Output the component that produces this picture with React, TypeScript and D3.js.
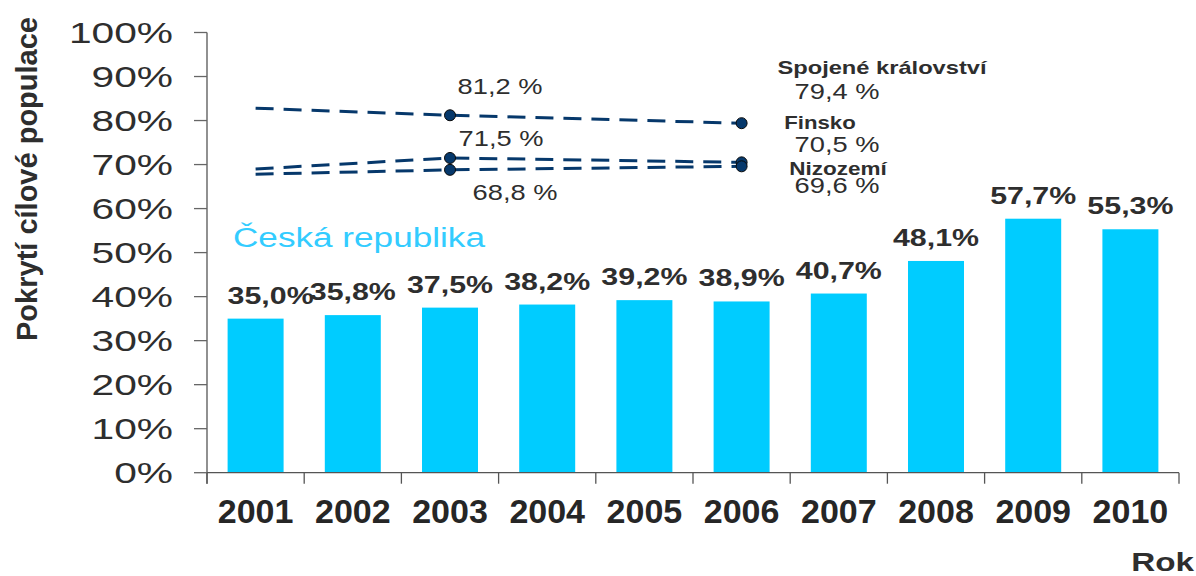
import React from 'react';
import * as d3 from 'd3';

// Czech coverage per year (bars)
const years = ['2001', '2002', '2003', '2004', '2005', '2006', '2007', '2008', '2009', '2010'];
const czValues = [35.0, 35.8, 37.5, 38.2, 39.2, 38.9, 40.7, 48.1, 57.7, 55.3];

// comparison countries (dashed lines)
const lineYears = ['2001', '2003', '2006'];
const ukValues = [82.8, 81.2, 79.4];
const fiValues = [69.0, 71.5, 70.5];
const nlValues = [67.8, 68.8, 69.6];

const yTicks = [0, 10, 20, 30, 40, 50, 60, 70, 80, 90, 100];
const yTickLabels = ['0%', '10%', '20%', '30%', '40%', '50%', '60%', '70%', '80%', '90%', '100%'];

const W = 1196;
const H = 576;
const FONT = 'Arial, "Liberation Sans", Helvetica, sans-serif';
const BAR = '#00CCFF';
const NAVY = '#06386b';
const TXT = '#2e2e2e';

const fmtBar = (v: number) => v.toFixed(1).replace('.', ',') + '%';
const fmtLine = (v: number) => v.toFixed(1).replace('.', ',') + ' %';

// text stretched horizontally like in the source picture
const SText = ({ x, y, s = 1, anchor = 'middle', size, weight = 'normal', fill = TXT, children }: any) => (
  <text
    transform={`translate(${x},${y}) scale(${s},1)`}
    textAnchor={anchor}
    fontSize={size}
    fontWeight={weight}
    fill={fill}
    fontFamily={FONT}
  >
    {children}
  </text>
);

export default function App() {
  const x = d3.scaleBand().domain(years).range([207, 1179]).paddingInner(0.424).paddingOuter(0.212);
  const y = d3.scaleLinear().domain([0, 100]).range([472.7, 32.5]);
  const step = x.step();
  const cx = (yr: string) => (x(yr) as number) + x.bandwidth() / 2;

  const line = d3
    .line<number>()
    .x((_, i) => cx(lineYears[i]))
    .y((d) => y(d));

  const series = [
    { values: ukValues, name: 'Spojené království' },
    { values: fiValues, name: 'Finsko' },
    { values: nlValues, name: 'Nizozemí' },
  ];

  const boundaries = years.map((yr) => (x(yr) as number) - (step - x.bandwidth()) / 2);
  boundaries.push(1179);

  return (
    <svg width={W} height={H} style={{ position: 'absolute', left: 0, top: 0, background: '#fff' }}>
      {/* bars */}
      {czValues.map((v, i) => (
        <rect key={i} x={x(years[i])} y={y(v)} width={x.bandwidth()} height={y(0) - y(v)} fill={BAR} />
      ))}

      {/* y axis */}
      <line x1={207} x2={207} y1={y(100)} y2={y(0) + 11} stroke="#555" strokeWidth={1.3} />
      {yTicks.map((t, i) => (
        <g key={t}>
          <line x1={194} x2={207} y1={y(t)} y2={y(t)} stroke="#666" strokeWidth={1.3} />
          <text
            transform={`translate(173,${y(t) + 10.5}) scale(1.38,1)`}
            textAnchor="end"
            fontSize={29.5}
            fill={TXT}
            fontFamily={FONT}
          >
            {yTickLabels[i]}
          </text>
        </g>
      ))}

      {/* x axis */}
      <line x1={207} x2={1179} y1={y(0)} y2={y(0)} stroke="#555" strokeWidth={1.3} />
      {boundaries.map((b, i) => (
        <line key={i} x1={b} x2={b} y1={y(0)} y2={y(0) + 11} stroke="#555" strokeWidth={1.3} />
      ))}
      {years.map((yr) => (
        <text key={yr} x={cx(yr)} y={523} textAnchor="middle" fontSize={34} fontWeight="bold" fill="#262626" fontFamily={FONT}>
          {yr}
        </text>
      ))}

      {/* bar value labels (the first one sits a little right in the source) */}
      {czValues.map((v, i) => (
        <SText key={i} x={cx(years[i]) + (i === 0 ? 15 : 0)} y={y(v) - 15} s={1.24} size={24.5} weight="bold">
          {fmtBar(v)}
        </SText>
      ))}

      {/* titles */}
      <text
        transform="translate(37,179) rotate(-90)"
        textAnchor="middle"
        fontSize={29}
        fontWeight="bold"
        fill={TXT}
        fontFamily={FONT}
      >
        Pokrytí cílové populace
      </text>
      <SText x={1194} y={571} s={1.33} anchor="end" size={25} weight="bold">
        Rok
      </SText>
      <SText x={233} y={247} s={1.255} anchor="start" size={28} fill="#33CCFF">
        Česká republika
      </SText>

      {/* dashed country lines */}
      {series.map((s) => (
        <path key={s.name} d={line(s.values) || ''} fill="none" stroke={NAVY} strokeWidth={3} strokeDasharray="18,10" />
      ))}
      {series.map((s) =>
        s.values.slice(1).map((v, i) => (
          <circle key={s.name + i} cx={cx(lineYears[i + 1])} cy={y(v)} r={5.5} fill={NAVY} stroke="#0a0a0a" strokeWidth={1} />
        ))
      )}

      {/* 2003 value labels */}
      <SText x={500} y={94} s={1.24} size={22}>{fmtLine(ukValues[1])}</SText>
      <SText x={501} y={146} s={1.24} size={22}>{fmtLine(fiValues[1])}</SText>
      <SText x={515} y={200} s={1.24} size={22}>{fmtLine(nlValues[1])}</SText>

      {/* 2006 name + value labels */}
      <SText x={882} y={74} s={1.28} size={18.5} weight="bold">{series[0].name}</SText>
      <SText x={837} y={99} s={1.24} size={22}>{fmtLine(ukValues[2])}</SText>
      <SText x={820} y={129} s={1.2} size={18.5} weight="bold">{series[1].name}</SText>
      <SText x={837} y={152} s={1.24} size={22}>{fmtLine(fiValues[2])}</SText>
      <SText x={838} y={175} s={1.25} size={18} weight="bold">{series[2].name}</SText>
      <SText x={837} y={193} s={1.24} size={22}>{fmtLine(nlValues[2])}</SText>
    </svg>
  );
}
